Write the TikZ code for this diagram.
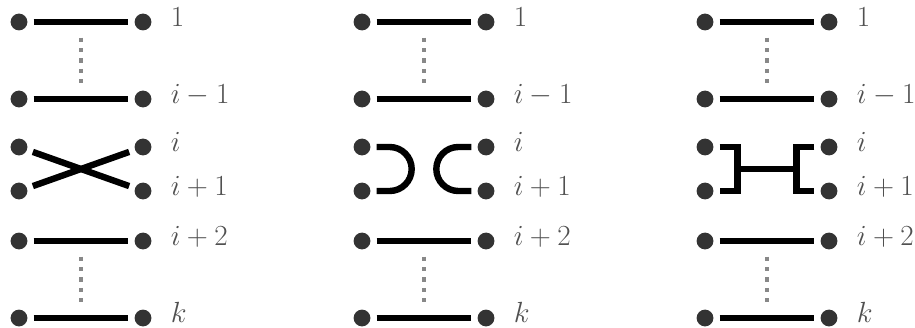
\documentclass[tikz,border=0pt]{standalone}
\usepackage{tikz}
\usetikzlibrary{positioning}
\definecolor{dotGray}{HTML}{333333}
\definecolor{lblGray}{HTML}{505050}
\definecolor{gapGray}{HTML}{888888}

\begin{document}
\begin{tikzpicture}[
          x=0.025cm, y=0.025cm,
          pt/.style={circle, fill=dotGray, inner sep=0pt, minimum size=0.42cm},
          bar/.style={line width=0.16cm},
          strand/.style={bar, shorten <=0.15cm, shorten >=0.15cm},
          gap/.style={gapGray, line width=0.12cm, dash pattern=on 0.11cm off 0.15cm,
                      shorten <=0.39cm, shorten >=0.39cm},
          lbl/.style={text=lblGray, font=\huge, inner sep=0pt,
                      text height=0.7em, text depth=0pt}
        ]
        \useasboundingbox (0,0) rectangle (915,-328);
        \foreach \p/\dx in {1/0, 2/343, 3/686} {
          \foreach \r/\y/\t in {a/22/1, b/99/i-1, c/147/i, d/191/i+1, e/241/i+2, f/318/k} {
            \node[pt] (L\p\r) at (19+\dx,-\y) {};
            \node[pt] (R\p\r) at (143+\dx,-\y) {};
            \node[lbl, right=0.47cm of R\p\r] (T\p\r) {$\t$};
            \coordinate (M\p\r) at (81+\dx,-\y);
          }
          \foreach \r in {a,b,e,f}
            \draw[strand] (L\p\r) -- (R\p\r);
          \draw[gap] (M\p a) -- (M\p b);
          \draw[gap] (M\p e) -- (M\p f);
        }
        % crossing
        \draw[strand] (L1c) -- (R1d);
        \draw[strand] (L1d) -- (R1c);
        % cups
        \draw[strand] (L2c.east) -- ++(19,0) arc[start angle=90, end angle=-90, radius=22] -- (L2d.east);
        \draw[strand] (R2c.west) -- ++(-19,0) arc[start angle=90, end angle=270, radius=22] -- (R2d.west);
        % bridge
        \draw[strand] (L3c.east) -- ++(24,0) -- ++(0,-22) coordinate (H3l) -- ++(0,-22) -- (L3d.east);
        \draw[strand] (R3c.west) -- ++(-24,0) -- ++(0,-22) coordinate (H3r) -- ++(0,-22) -- (R3d.west);
        \draw[bar] (H3l) -- (H3r);
      \end{tikzpicture}
\end{document}
